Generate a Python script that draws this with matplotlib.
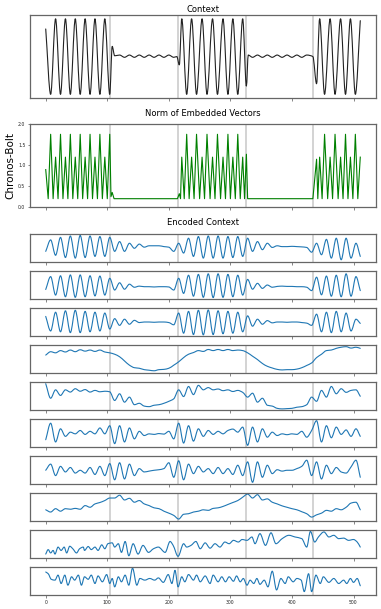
import numpy as np
import matplotlib
matplotlib.use('Agg')
import matplotlib.pyplot as plt
from matplotlib.gridspec import GridSpec
from matplotlib.path import Path
from matplotlib.patches import PathPatch

# boundaries between signal / flat segments
BOUNDS = [105, 215, 325, 435]

# context signal (key points: extrema)
CTX_X = [0, 8, 16, 24, 32, 40, 48, 56, 64, 72, 80, 88, 96, 104,
         108, 112, 120, 128, 136, 144, 152, 160, 168, 176, 184, 192, 200, 208, 213, 217,
         221, 229, 237, 245, 254, 262, 271, 279, 288, 296, 304, 312, 320, 326,
         329, 336, 344, 352, 360, 368, 376, 384, 392, 400, 408, 416, 424, 434, 440,
         445, 453, 462, 470, 479, 487, 495, 503, 511]
CTX_Y = [0.73, -1, 1, -1, 1, -1, 1, -1, 1, -1, 1, -1, 1, -1,
         0.27, 0.02, 0.04, -0.02, 0.04, -0.02, 0.04, -0.02, 0.04, -0.02, 0.04, -0.02, 0.04, -0.02, 0.0, -0.22,
         1, -1, 1, -1, 1, -1, 1, -1, 1, -1, 1, -1, 1, -0.78,
         0.04, -0.02, 0.04, -0.02, 0.04, -0.02, 0.04, -0.02, 0.04, -0.02, 0.04, -0.02, 0.04, 0.0, -0.72,
         1, -1, 1, -1, 1, -1, 1, -1, 0.95]

# norm of embedded vectors
NORM_X = [0, 4, 8, 12, 16, 20, 24, 28, 32, 36, 40, 44, 48, 52, 56, 60, 64, 68, 72, 76,
          80, 84, 88, 92, 96, 100, 104, 106, 108, 111, 214, 217, 219,
          221, 225, 229, 233, 237, 241, 245, 250, 254, 258, 262, 267, 271, 275, 279, 284,
          288, 292, 296, 300, 304, 308, 312, 316, 320, 323, 326, 328, 434, 440, 442,
          445, 449, 453, 458, 462, 466, 470, 475, 479, 483, 487, 491, 495, 499, 503, 507, 511]
NORM_Y = [0.9, 0.2, 1.75, 0.2, 1.2, 0.2, 1.75, 0.2, 1.2, 0.2, 1.75, 0.2, 1.2, 0.2, 1.75, 0.2, 1.2, 0.2, 1.75, 0.2,
          1.2, 0.2, 1.75, 0.2, 1.2, 0.2, 1.75, 0.25, 0.35, 0.2, 0.2, 0.32, 0.2,
          1.2, 0.2, 1.75, 0.2, 1.2, 0.2, 1.75, 0.2, 1.2, 0.2, 1.75, 0.2, 1.2, 0.2, 1.75, 0.2,
          1.2, 0.2, 1.75, 0.2, 1.2, 0.2, 1.75, 0.2, 1.2, 0.2, 1.27, 0.2, 0.2, 1.15, 0.2,
          1.2, 0.2, 1.75, 0.2, 1.2, 0.2, 1.75, 0.2, 1.2, 0.2, 1.75, 0.2, 1.2, 0.2, 1.75, 0.2, 1.2]

# encoded context, 10 channels (values in % of panel height)
ENC_X = list(range(0, 512, 8)) + [511]
ENC_1 = [38, 79, 24, 88, 16, 93, 14, 95, 16, 93, 20, 91, 20, 88, 38, 73, 38, 67, 49, 64,
         53, 58, 58, 58, 55, 53, 38, 67, 32, 85, 20, 91, 14, 93, 14, 93, 14, 91, 16, 91,
         20, 85, 38, 73, 44, 67, 52, 58, 55, 55, 56, 55, 54, 52, 35, 67, 26, 81, 14, 85,
         8, 85, 14, 67, 20]
ENC_2 = [34, 80, 14, 83, 8, 86, 6, 86, 8, 83, 11, 82, 14, 74, 32, 58, 35, 53, 42, 46,
         44, 44, 43, 44, 44, 43, 32, 74, 20, 85, 10, 88, 6, 90, 5, 90, 6, 88, 8, 85,
         14, 70, 35, 56, 38, 50, 42, 45, 46, 45, 45, 44, 44, 42, 30, 78, 15, 82, 10, 85,
         8, 90, 10, 80, 30]
ENC_3 = [70, 18, 85, 15, 90, 12, 92, 12, 88, 15, 85, 18, 82, 25, 62, 38, 60, 42, 56, 48,
         50, 50, 49, 50, 50, 48, 40, 82, 10, 88, 5, 92, 4, 93, 5, 90, 8, 88, 10, 85,
         15, 72, 35, 60, 42, 55, 47, 50, 50, 49, 50, 50, 48, 46, 38, 78, 15, 85, 12, 88,
         15, 82, 18, 60, 45]
ENC_4 = [64, 76, 72, 80, 75, 82, 76, 83, 78, 82, 77, 82, 75, 72, 67, 58, 43, 28, 19, 17,
         12, 10, 8, 12, 13, 17, 28, 40, 55, 67, 73, 80, 77, 84, 80, 84, 80, 84, 80, 82,
         80, 72, 60, 48, 34, 24, 18, 13, 11, 12, 12, 14, 19, 27, 36, 55, 67, 80, 82, 88,
         92, 94, 89, 92, 88]
ENC_5 = [94, 42, 72, 52, 72, 64, 76, 67, 73, 64, 70, 65, 67, 65, 34, 58, 28, 46, 19, 24,
         14, 12, 17, 19, 24, 31, 40, 72, 48, 84, 55, 88, 72, 80, 72, 75, 69, 72, 66, 70,
         63, 46, 60, 28, 42, 17, 14, 6, 4, 5, 6, 10, 12, 19, 46, 31, 70, 46, 84, 58,
         76, 63, 70, 72, 49]
ENC_6 = [26, 85, 18, 65, 38, 53, 47, 59, 45, 56, 47, 68, 47, 76, 12, 76, 18, 68, 29, 56,
         41, 47, 45, 48, 46, 56, 29, 85, 14, 76, 21, 65, 38, 59, 45, 56, 47, 59, 64, 53,
         71, 6, 71, 18, 65, 35, 53, 41, 47, 44, 47, 45, 56, 35, 59, 94, 18, 76, 33, 71,
         45, 61, 38, 65, 38]
ENC_7 = [49, 71, 30, 63, 43, 59, 39, 49, 39, 59, 34, 63, 30, 73, 15, 76, 18, 71, 30, 55,
         43, 46, 49, 51, 55, 76, 24, 83, 15, 71, 37, 63, 43, 55, 37, 59, 37, 55, 34, 67,
         30, 79, 6, 79, 24, 67, 37, 51, 46, 49, 49, 55, 63, 85, 30, 79, 18, 67, 37, 59,
         43, 39, 61, 85, 24]
ENC_8 = [40, 32, 44, 35, 44, 42, 45, 42, 55, 49, 61, 66, 73, 82, 82, 92, 75, 81, 67, 73,
         61, 55, 47, 44, 35, 28, 20, 7, 24, 26, 32, 35, 40, 38, 45, 47, 52, 59, 66, 73,
         85, 96, 82, 94, 75, 79, 67, 61, 54, 49, 44, 40, 33, 26, 14, 22, 28, 38, 35, 44,
         40, 49, 64, 67, 40]
ENC_9_X = [0, 4, 8, 12, 15, 20, 25, 30, 34, 39, 44, 50, 55, 61, 63, 69, 74, 80, 85, 91,
           96, 101, 108, 112, 118, 123, 129, 135, 142, 150, 158, 167, 175, 183, 194, 202,
           207, 215, 224, 229, 236, 244, 251, 259, 267, 275, 283, 291, 298, 305, 313, 319,
           327, 335, 340, 348, 357, 366, 374, 384, 395, 405, 416, 424, 430, 437, 443, 452,
           460, 468, 476, 484, 492, 500, 506, 511]
ENC_9 = [14, 30, 18, 27, 14, 39, 27, 39, 18, 42, 33, 18, 33, 39, 27, 41, 30, 39, 27, 47,
         33, 51, 54, 39, 51, 20, 59, 8, 51, 14, 45, 20, 33, 39, 20, 59,
         45, 6, 51, 39, 45, 59, 33, 54, 35, 51, 39, 57, 51, 63, 57, 66,
         63, 75, 51, 87, 45, 90, 51, 69, 81, 75, 69, 39, 95, 57, 75, 93,
         75, 81, 69, 71, 63, 66, 57, 39]
ENC_10_X = [0, 4, 9, 15, 20, 25, 31, 36, 42, 47, 53, 58, 63, 69, 74, 80, 85, 92, 99, 104,
            108, 112, 118, 123, 129, 135, 141, 148, 153, 161, 169, 177, 183, 191, 199, 205,
            210, 215, 221, 226, 232, 240, 245, 251, 259, 267, 272, 280, 286, 292, 298, 305,
            310, 316, 321, 327, 332, 338, 343, 348, 355, 361, 368, 375, 382, 389, 394, 402,
            408, 415, 420, 427, 432, 439, 446, 451, 460, 468, 476, 484, 489, 495, 500, 506, 511]
ENC_10 = [82, 76, 56, 53, 71, 41, 71, 35, 65, 53, 71, 35, 65, 56, 71, 41, 68, 47, 73, 41,
          59, 29, 65, 47, 71, 35, 96, 35, 59, 53, 59, 53, 61, 45, 73, 41,
          88, 29, 65, 47, 73, 53, 71, 47, 68, 41, 71, 47, 65, 47, 65, 49,
          68, 47, 59, 35, 53, 41, 59, 38, 53, 29, 85, 18, 59, 41, 65, 47,
          59, 53, 12, 76, 12, 71, 41, 65, 45, 59, 41, 53, 41, 59, 45, 59, 33]
ENCODED = [(ENC_X, ENC_1), (ENC_X, ENC_2), (ENC_X, ENC_3), (ENC_X, ENC_4),
           (ENC_X, ENC_5), (ENC_X, ENC_6), (ENC_X, ENC_7), (ENC_X, ENC_8),
           (ENC_9_X, ENC_9), (ENC_10_X, ENC_10)]
XTICKS = [0, 100, 200, 300, 400, 500]
XLIM = (-25.55, 536.55)


def smooth_line(ax, x, y, **kw):
    """Draw a smooth (monotone cubic Bezier) line through the key points."""
    x = np.asarray(x, float); y = np.asarray(y, float)
    h = np.diff(x); d = np.diff(y) / h
    m = np.zeros_like(y)
    m[0], m[-1] = d[0], d[-1]
    for i in range(1, len(y) - 1):
        if d[i - 1] * d[i] > 0:
            w1 = 2 * h[i] + h[i - 1]; w2 = h[i] + 2 * h[i - 1]
            m[i] = (w1 + w2) / (w1 / d[i - 1] + w2 / d[i])
    verts = [(x[0], y[0])]; codes = [Path.MOVETO]
    for i in range(len(h)):
        verts += [(x[i] + h[i] / 3, y[i] + m[i] * h[i] / 3),
                  (x[i + 1] - h[i] / 3, y[i + 1] - m[i + 1] * h[i] / 3),
                  (x[i + 1], y[i + 1])]
        codes += [Path.CURVE4] * 3
    ax.add_patch(PathPatch(Path(verts, codes), fill=False, capstyle='round',
                           joinstyle='round', **kw))


def style(ax, labels=False):
    for s in ax.spines.values():
        s.set_color('#666666'); s.set_linewidth(0.9)
    ax.set_xlim(*XLIM)
    ax.set_xticks(XTICKS)
    ax.tick_params(axis='both', length=1.8, width=0.5, colors='#555555',
                   labelsize=3.3, labelcolor='#222222', pad=1.5)
    if not labels:
        ax.set_xticklabels([])
    for b in BOUNDS:
        ax.axvline(b, color='#b0b0b0', alpha=0.6, lw=1.3, zorder=0)


fig = plt.figure(figsize=(3.81, 6.09), dpi=100)
gs_top = GridSpec(2, 1, figure=fig, left=30/381, right=376/381,
                  top=1 - 15/609, bottom=1 - 207/609, hspace=0.31)
gs_enc = GridSpec(10, 1, figure=fig, left=30/381, right=376/381,
                  top=1 - 234/609, bottom=1 - 595/609, hspace=0.32)

ax = fig.add_subplot(gs_top[0])
smooth_line(ax, CTX_X, CTX_Y, edgecolor='#222222', lw=0.8)
ax.set_ylim(-1.1, 1.1)
ax.set_yticks([])
ax.set_title('Context', fontsize=6, pad=2.5)
style(ax)

ax = fig.add_subplot(gs_top[1])
ax.plot(NORM_X, NORM_Y, color='green', lw=0.8)
ax.set_ylim(0, 2)
ax.set_yticks([0.0, 0.5, 1.0, 1.5, 2.0])
ax.set_ylabel('Chronos-Bolt', fontsize=7.5, labelpad=2)
ax.set_title('Norm of Embedded Vectors', fontsize=6, pad=5.5)
style(ax)

for i, (xs, vals) in enumerate(ENCODED):
    ax = fig.add_subplot(gs_enc[i])
    smooth_line(ax, xs, vals, edgecolor='#1f77b4', lw=0.8)
    ax.set_ylim(0, 100)
    ax.set_yticks([])
    if i == 0:
        ax.set_title('Encoded Context', fontsize=6, pad=6.5)
    style(ax, labels=(i == len(ENCODED) - 1))

fig.savefig('out.png', dpi=100)
